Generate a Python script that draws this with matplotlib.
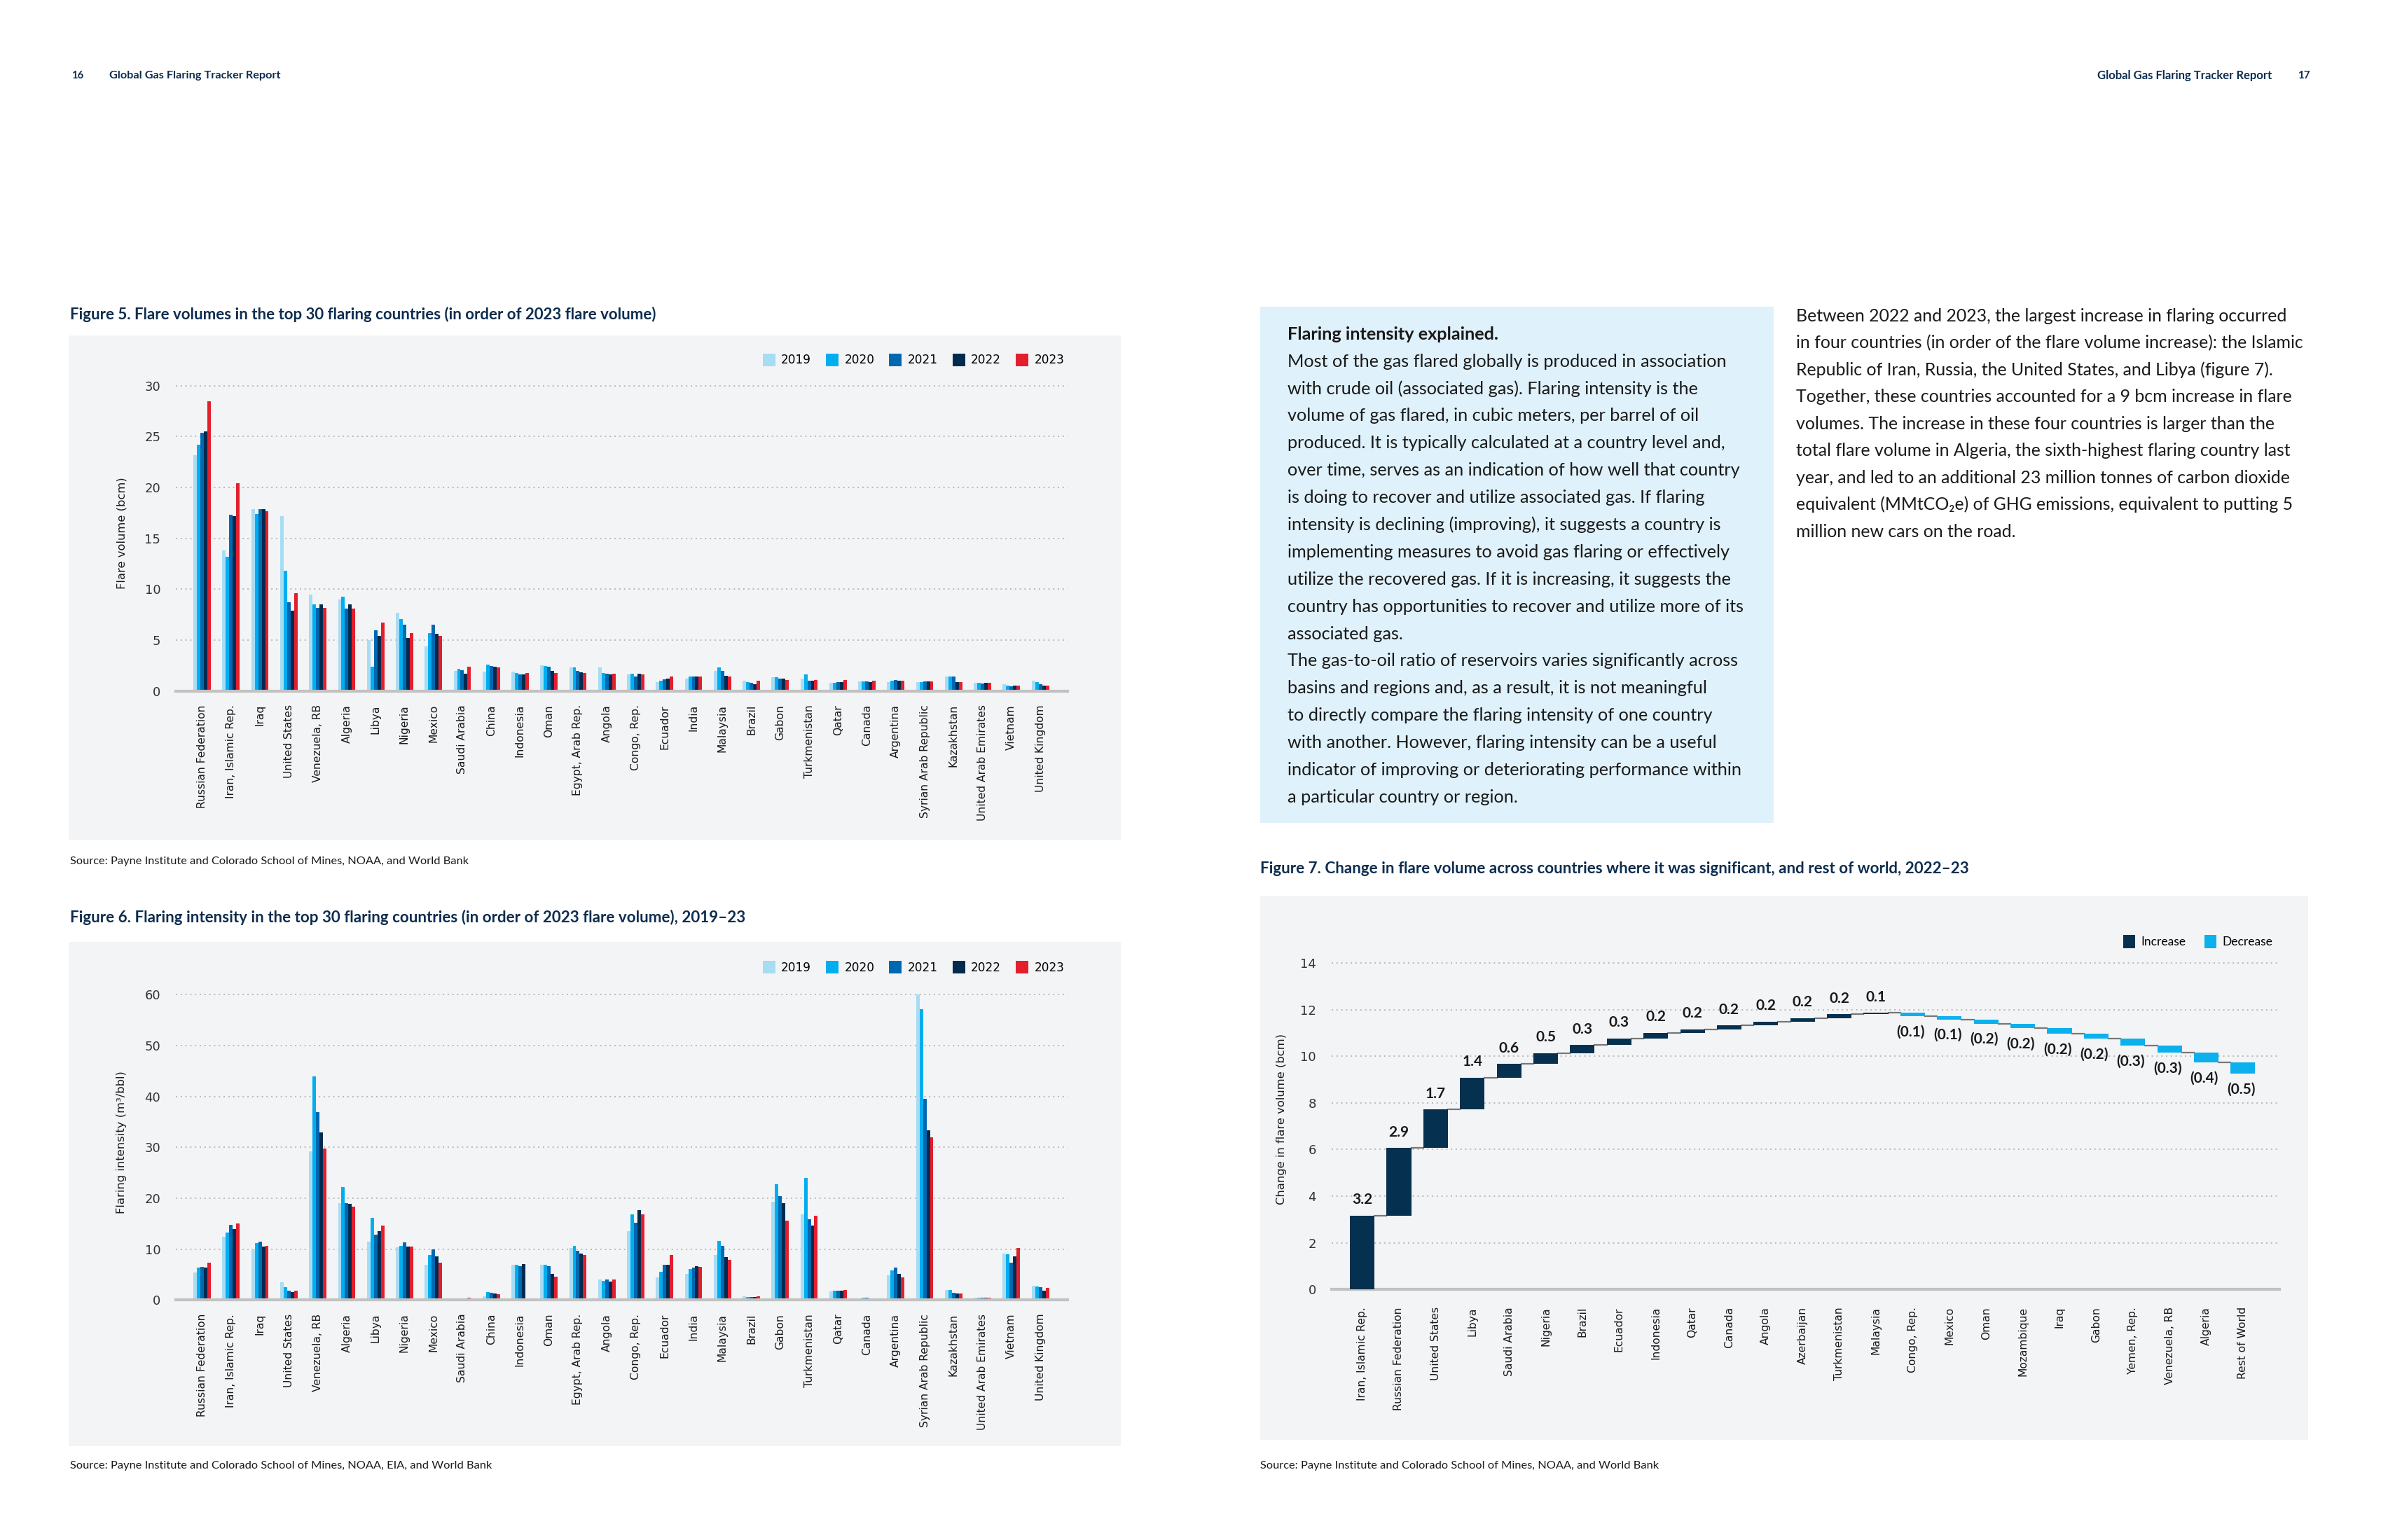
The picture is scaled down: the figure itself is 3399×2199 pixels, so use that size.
import numpy as np
import matplotlib
matplotlib.use("Agg")
import matplotlib.pyplot as plt
from matplotlib.patches import Rectangle, Patch

# ---------------- data ----------------
countries = ["Russian Federation", "Iran, Islamic Rep.", "Iraq", "United States", "Venezuela, RB",
             "Algeria", "Libya", "Nigeria", "Mexico", "Saudi Arabia", "China", "Indonesia", "Oman",
             "Egypt, Arab Rep.", "Angola", "Congo, Rep.", "Ecuador", "India", "Malaysia", "Brazil",
             "Gabon", "Turkmenistan", "Qatar", "Canada", "Argentina", "Syrian Arab Republic",
             "Kazakhstan", "United Arab Emirates", "Vietnam", "United Kingdom"]
years = ["2019", "2020", "2021", "2022", "2023"]

vol_2019 = [23.2, 13.8, 17.9, 17.2, 9.5, 9.0, 5.0, 7.7, 4.4, 2.0, 1.9, 1.9, 2.5, 2.3, 2.3, 1.6, 0.85, 1.2, 2.0, 1.0,
            1.35, 1.2, 0.8, 0.95, 0.85, 0.85, 1.45, 0.8, 0.65, 1.0]
vol_2020 = [24.2, 13.2, 17.4, 11.8, 8.5, 9.3, 2.4, 7.1, 5.7, 2.2, 2.6, 1.8, 2.45, 2.3, 1.75, 1.7, 1.0, 1.4, 2.3, 0.85,
            1.35, 1.6, 0.8, 0.95, 1.0, 0.9, 1.45, 0.8, 0.5, 0.9]
vol_2021 = [25.4, 17.3, 17.9, 8.7, 8.2, 8.1, 6.0, 6.5, 6.5, 2.05, 2.45, 1.6, 2.4, 2.0, 1.7, 1.4, 1.15, 1.4, 2.0, 0.8,
            1.2, 1.0, 0.85, 0.95, 1.1, 0.95, 1.4, 0.75, 0.45, 0.7]
vol_2022 = [25.5, 17.2, 17.9, 7.9, 8.5, 8.5, 5.4, 5.2, 5.6, 1.7, 2.4, 1.6, 2.0, 1.85, 1.6, 1.7, 1.2, 1.45, 1.5, 0.7,
            1.25, 1.0, 0.9, 0.85, 1.0, 0.95, 0.9, 0.8, 0.5, 0.5]
vol_2023 = [28.5, 20.4, 17.7, 9.6, 8.2, 8.1, 6.7, 5.7, 5.4, 2.4, 2.3, 1.8, 1.8, 1.8, 1.7, 1.6, 1.45, 1.4, 1.4, 1.0,
            1.05, 1.05, 1.05, 1.0, 1.0, 0.95, 0.9, 0.8, 0.55, 0.55]

int_2019 = [5.4, 12.5, 9.9, 3.5, 29.2, 19.1, 11.5, 10.4, 6.9, 0.3, 0.75, 7.0, 7.0, 10.2, 4.0, 13.5, 4.5, 5.1, 8.9, 0.8,
            19.3, 16.8, 1.7, 0.3, 4.8, 60.0, 2.0, 0.5, 9.15, 2.8]
int_2020 = [6.35, 13.3, 11.2, 2.5, 44.0, 22.2, 16.2, 10.7, 8.9, 0.3, 1.6, 6.9, 6.9, 10.6, 3.7, 16.8, 5.6, 6.15, 11.6, 0.55,
            22.7, 24.0, 1.8, 0.4, 5.85, 57.2, 2.0, 0.5, 9.05, 2.7]
int_2021 = [6.5, 14.8, 11.5, 1.8, 37.0, 19.1, 12.8, 11.3, 9.9, 0.25, 1.4, 6.6, 6.6, 9.7, 4.0, 15.2, 6.9, 6.35, 10.7, 0.55,
            20.4, 15.9, 1.8, 0.4, 6.4, 39.5, 1.4, 0.4, 7.4, 2.5]
int_2022 = [6.35, 13.9, 10.5, 1.5, 32.9, 18.9, 13.5, 10.5, 8.6, 0.15, 1.3, 7.1, 5.1, 9.15, 3.6, 17.7, 7.0, 6.6, 8.4, 0.55,
            19.1, 14.6, 1.8, 0.3, 5.2, 33.3, 1.3, 0.4, 8.6, 1.8]
int_2023 = [7.3, 15.0, 10.7, 1.8, 29.8, 18.4, 14.6, 10.5, 7.4, 0.4, 1.2, np.nan, 4.6, 8.8, 4.0, 16.9, 8.8, 6.5, 7.9, 0.75,
            15.6, 16.5, 2.0, 0.3, 4.5, 32.0, 1.25, 0.4, 10.2, 2.45]

wf_countries = ["Iran, Islamic Rep.", "Russian Federation", "United States", "Libya", "Saudi Arabia", "Nigeria",
                "Brazil", "Ecuador", "Indonesia", "Qatar", "Canada", "Angola", "Azerbaijan", "Turkmenistan",
                "Malaysia", "Congo, Rep.", "Mexico", "Oman", "Mozambique", "Iraq", "Gabon", "Yemen, Rep.",
                "Venezuela, RB", "Algeria", "Rest of World"]
wf_change = [3.16, 2.90, 1.66, 1.36, 0.59, 0.46, 0.35, 0.28, 0.24, 0.16, 0.16, 0.16, 0.16, 0.16, 0.06,
             -0.14, -0.14, -0.18, -0.2, -0.24, -0.2, -0.3, -0.3, -0.44, -0.47]

# ---------------- style ----------------
year_colors = ["#a6dcf4", "#00aeef", "#0067b1", "#002b4f", "#e31f2d"]
inc_color = "#06304f"
dec_color = "#0bb0ec"
navy = "#0d2d4f"
panel_bg = "#f3f4f6"
box_bg = "#dff1fa"
grid_col = "#b9b9b9"
base_col = "#c2c2c2"
txt_col = "#1a1a1a"

W, H = 3399, 2199
SW, SH = 1568.0, 1014.0
fig = plt.figure(figsize=(W / 100, H / 100), dpi=100)
fig.patch.set_facecolor("white")
renderer = fig.canvas.get_renderer()


def fx(x):
    return x / SW


def fy(y):
    return 1 - y / SH


def panel(x0, y0, x1, y1, color):
    fig.add_artist(Rectangle((fx(x0), fy(y1)), fx(x1) - fx(x0), (y1 - y0) / SH,
                             transform=fig.transFigure, facecolor=color, edgecolor="none", zorder=0))


def fit_text(x, y, s, target_w, base=14, **kw):
    t = fig.text(fx(x), fy(y), s, fontsize=base, **kw)
    bb = t.get_window_extent(renderer=renderer)
    t.set_fontsize(base * (target_w * W / SW) / bb.width)
    return t


def fit_size(s, target_w, base=14, **kw):
    t = fig.text(0, 0, s, fontsize=base, **kw)
    bb = t.get_window_extent(renderer=renderer)
    t.remove()
    return base * (target_w * W / SW) / bb.width


# ---------------- page header ----------------
fit_text(47, 50, "16", 8, family="Lato", weight="bold", color=navy, va="center")
fit_text(72, 50, "Global Gas Flaring Tracker Report", 114, family="Lato", weight="bold", color=navy, va="center")
fit_text(1381, 50, "Global Gas Flaring Tracker Report", 116, family="Lato", weight="bold", color=navy, va="center")
fit_text(1513, 50, "17", 8, family="Lato", weight="bold", color=navy, va="center")

# ---------------- grouped bar helper ----------------
def grouped(ax, series, ymax, ticks, ylabel):
    x = np.arange(len(countries))
    w = 0.12
    for i, (vals, col) in enumerate(zip(series, year_colors)):
        ax.bar(x + (i - 2) * w, vals, width=w, color=col, label=years[i], zorder=3, linewidth=0)
    ax.set_xlim(-0.9, len(countries) - 1 + 0.94)
    ax.set_ylim(0, ymax)
    ax.set_yticks(ticks)
    ax.set_yticklabels([str(t) for t in ticks], fontsize=13, color="#333333", family="DejaVu Sans")
    ax.set_xticks(x)
    ax.set_xticklabels(countries, rotation=90, fontsize=11.2, color=txt_col, family="DejaVu Sans")
    ax.tick_params(axis="both", length=0)
    ax.tick_params(axis="x", pad=14)
    ax.tick_params(axis="y", pad=16)
    for s in ["top", "right", "left"]:
        ax.spines[s].set_visible(False)
    ax.spines["bottom"].set_color(base_col)
    ax.spines["bottom"].set_linewidth(3)
    ax.spines["bottom"].set_zorder(4)
    ax.set_facecolor("none")
    ax.yaxis.grid(True, linestyle=(0, (1, 2.5)), color=grid_col, linewidth=1.4, zorder=0)
    ax.set_axisbelow(True)
    ax.set_ylabel(ylabel, fontsize=11.8, color=txt_col, family="DejaVu Sans", labelpad=18)


def year_legend(ax, x_right, y_c):
    handles = [Patch(facecolor=c, edgecolor="none") for c in year_colors]
    fig.legend(handles, years, loc="center right", bbox_to_anchor=(fx(x_right), fy(y_c)),
               bbox_transform=fig.transFigure, ncol=5, frameon=False,
               handlelength=1.05, handleheight=1.25, handletextpad=0.5, columnspacing=1.25,
               prop={"family": "DejaVu Sans", "size": 12.2})


# ---------------- Figure 5 ----------------
fit_text(46, 207, "Figure 5. Flare volumes in the top 30 flaring countries (in order of 2023 flare volume)",
         388, family="Lato", weight="bold", color=navy, va="center")
panel(45, 221, 738, 553, panel_bg)
u5 = (455 - 254) / 30.0
ax5 = fig.add_axes([fx(116), fy(455), (703 - 116) / SW, 31 * u5 / SH])
grouped(ax5, [vol_2019, vol_2020, vol_2021, vol_2022, vol_2023], 31, [0, 5, 10, 15, 20, 25, 30],
        "Flare volume (bcm)")
year_legend(ax5, 708, 237)
fit_text(46, 567, "Source: Payne Institute and Colorado School of Mines, NOAA, and World Bank", 262,
         family="Lato", color=txt_col, va="center")

# ---------------- Figure 6 ----------------
fit_text(46, 604, "Figure 6. Flaring intensity in the top 30 flaring countries (in order of 2023 flare volume), 2019\u201323",
         448, family="Lato", weight="bold", color=navy, va="center")
panel(45, 620, 738, 952, panel_bg)
u6 = (856 - 655) / 60.0
ax6 = fig.add_axes([fx(116), fy(856), (703 - 116) / SW, 62 * u6 / SH])
grouped(ax6, [int_2019, int_2020, int_2021, int_2022, int_2023], 62, [0, 10, 20, 30, 40, 50, 60],
        "Flaring intensity (m\u00b3/bbl)")
year_legend(ax6, 708, 637)
fit_text(46, 965, "Source: Payne Institute and Colorado School of Mines, NOAA, EIA, and World Bank", 277,
         family="Lato", color=txt_col, va="center")

# ---------------- text box ----------------
panel(830, 202, 1168, 542, box_bg)
box_lines = [
    "Most of the gas flared globally is produced in association",
    "with crude oil (associated gas). Flaring intensity is the",
    "volume of gas flared, in cubic meters, per barrel of oil",
    "produced. It is typically calculated at a country level and,",
    "over time, serves as an indication of how well that country",
    "is doing to recover and utilize associated gas. If flaring",
    "intensity is declining (improving), it suggests a country is",
    "implementing measures to avoid gas flaring or effectively",
    "utilize the recovered gas. If it is increasing, it suggests the",
    "country has opportunities to recover and utilize more of its",
    "associated gas.",
    "The gas-to-oil ratio of reservoirs varies significantly across",
    "basins and regions and, as a result, it is not meaningful",
    "to directly compare the flaring intensity of one country",
    "with another. However, flaring intensity can be a useful",
    "indicator of improving or deteriorating performance within",
    "a particular country or region.",
]
bsize = fit_size(box_lines[11], 299, family="Lato")
step = (525 - 220) / 17.0
fig.text(fx(848), fy(220), "Flaring intensity explained.", fontsize=bsize, family="Lato", weight="bold",
         color=txt_col, va="center")
for i, line in enumerate(box_lines):
    fig.text(fx(848), fy(220 + (i + 1) * step), line, fontsize=bsize, family="Lato", color=txt_col, va="center")

right_lines = [
    "Between 2022 and 2023, the largest increase in flaring occurred",
    "in four countries (in order of the flare volume increase): the Islamic",
    "Republic of Iran, Russia, the United States, and Libya (figure 7).",
    "Together, these countries accounted for a 9 bcm increase in flare",
    "volumes. The increase in these four countries is larger than the",
    "total flare volume in Algeria, the sixth-highest flaring country last",
    "year, and led to an additional 23 million tonnes of carbon dioxide",
    "equivalent (MMtCO\u2082e) of GHG emissions, equivalent to putting 5",
    "million new cars on the road.",
]
rsize = fit_size(right_lines[1], 335, family="Lato")
rstep = (350 - 208) / 8.0
for i, line in enumerate(right_lines):
    fig.text(fx(1183), fy(208 + i * rstep), line, fontsize=rsize, family=["Lato", "DejaVu Sans"],
             color=txt_col, va="center")

# ---------------- Figure 7 ----------------
fit_text(830, 572, "Figure 7. Change in flare volume across countries where it was significant, and rest of world, 2022\u201323",
         468, family="Lato", weight="bold", color=navy, va="center")
panel(830, 590, 1520, 948, panel_bg)
u7 = (849 - 634) / 14.0
ax7 = fig.add_axes([fx(877), fy(849), (1501 - 877) / SW, 14.6 * u7 / SH])
chg = np.array(wf_change)
ends = np.cumsum(chg)
starts = ends - chg
xw = np.arange(len(wf_countries))
cols = [inc_color if v > 0 else dec_color for v in chg]
ax7.bar(xw, chg, bottom=starts, width=0.67, color=cols, zorder=3, linewidth=0)
for i in range(len(xw) - 1):
    ax7.plot([xw[i] + 0.335, xw[i + 1] - 0.335], [ends[i], ends[i]], color="#777777", lw=1.6, zorder=2)
for i, v in enumerate(chg):
    if v > 0:
        ax7.annotate(f"{v:.1f}", (xw[i], ends[i]), xytext=(0, 9), textcoords="offset points",
                     ha="center", va="bottom", fontsize=15, weight="bold", family="Lato", color=txt_col)
    else:
        ax7.annotate(f"({abs(v):.1f})", (xw[i], ends[i]), xytext=(-2, -9), textcoords="offset points",
                     ha="center", va="top", fontsize=15, weight="bold", family="Lato", color=txt_col)
ax7.set_xlim(-0.83, len(wf_countries) - 1 + 0.99)
ax7.set_ylim(0, 14.6)
yt7 = [0, 2, 4, 6, 8, 10, 12, 14]
ax7.set_yticks(yt7)
ax7.set_yticklabels([str(t) for t in yt7], fontsize=13, color="#333333", family="DejaVu Sans")
ax7.set_xticks(xw)
ax7.set_xticklabels(wf_countries, rotation=90, fontsize=11.2, color=txt_col, family="DejaVu Sans")
ax7.tick_params(axis="both", length=0)
ax7.tick_params(axis="x", pad=18)
ax7.tick_params(axis="y", pad=16)
for s in ["top", "right", "left"]:
    ax7.spines[s].set_visible(False)
ax7.spines["bottom"].set_color(base_col)
ax7.spines["bottom"].set_linewidth(3)
ax7.set_facecolor("none")
ax7.yaxis.grid(True, linestyle=(0, (1, 2.5)), color=grid_col, linewidth=1.4, zorder=0)
ax7.set_axisbelow(True)
ax7.set_ylabel("Change in flare volume (bcm)", fontsize=11.8, color=txt_col, family="DejaVu Sans", labelpad=14)
fig.legend([Patch(facecolor=inc_color, edgecolor="none"), Patch(facecolor=dec_color, edgecolor="none")],
           ["Increase", "Decrease"], loc="center right", bbox_to_anchor=(fx(1504), fy(620)),
           bbox_transform=fig.transFigure, ncol=2, frameon=False,
           handlelength=1.0, handleheight=1.25, handletextpad=0.5, columnspacing=1.5,
           prop={"family": "Lato", "size": 12.5})
fit_text(830, 965, "Source: Payne Institute and Colorado School of Mines, NOAA, and World Bank", 262,
         family="Lato", color=txt_col, va="center")

fig.savefig("out.png", dpi=100, facecolor="white")
